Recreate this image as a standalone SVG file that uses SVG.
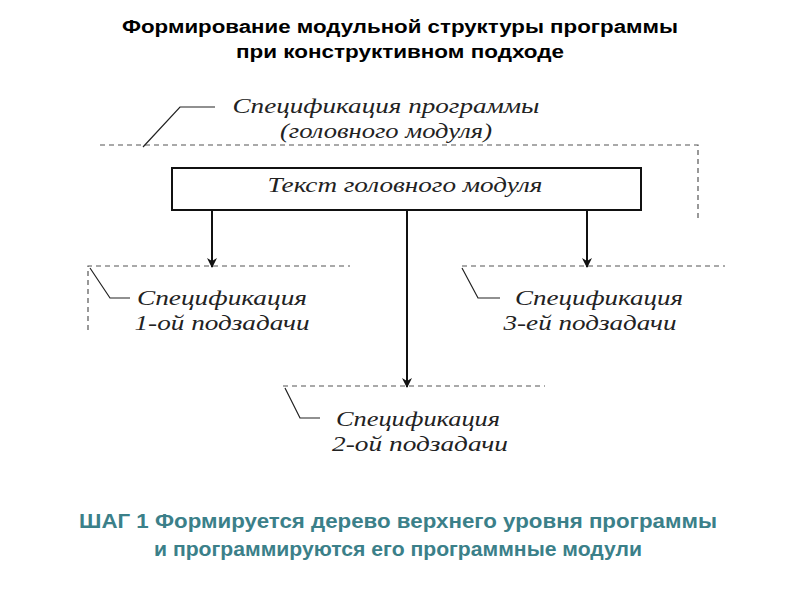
<svg xmlns="http://www.w3.org/2000/svg" width="800" height="600" viewBox="0 0 800 600">
<style>
.title{font-family:"Liberation Sans",Arial,sans-serif;font-weight:bold;font-size:18px;fill:#000;text-anchor:middle}
.step{font-family:"Liberation Sans",Arial,sans-serif;font-weight:bold;font-size:19.5px;fill:#3b8089;text-anchor:middle}
.lbl{font-family:"Liberation Serif","Times New Roman",serif;font-style:italic;font-size:21px;fill:#222;text-anchor:middle}
.dash{fill:none;stroke:#555;stroke-width:1.2;stroke-dasharray:5,4}
.lead{fill:none;stroke:#222;stroke-width:1.2}
.conn{fill:none;stroke:#111;stroke-width:2}
</style>
<defs>
<marker id="ah" viewBox="0 0 10 10" refX="9" refY="5" markerWidth="5" markerHeight="5" orient="auto">
<path d="M0,0 L10,5 L0,10 L3,5 z" fill="#111"/>
</marker>
</defs>
<rect width="800" height="600" fill="#fff"/>
<text class="title" x="400" y="33" textLength="556" lengthAdjust="spacingAndGlyphs">Формирование модульной структуры программы</text>
<text class="title" x="400" y="58" textLength="328" lengthAdjust="spacingAndGlyphs">при конструктивном подходе</text>

<g id="head-spec">
<path class="dash" d="M100,145 H698 V222"/>
<path class="lead" d="M143,147 L180,107 H215"/>
<text class="lbl" x="386" y="113" textLength="307" lengthAdjust="spacingAndGlyphs">Спецификация программы</text>
<text class="lbl" x="386" y="138" textLength="212" lengthAdjust="spacingAndGlyphs">(головного модуля)</text>
</g>

<g id="head-module">
<rect x="172" y="168" width="469" height="42" fill="#fff" stroke="#111" stroke-width="2"/>
<text class="lbl" x="405" y="192" textLength="275" lengthAdjust="spacingAndGlyphs">Текст головного модуля</text>
</g>

<g id="connectors">
<path class="conn" d="M212,210 V267" marker-end="url(#ah)"/>
<path class="conn" d="M407,210 V387" marker-end="url(#ah)"/>
<path class="conn" d="M587,210 V267" marker-end="url(#ah)"/>
</g>

<g id="sub1">
<path class="dash" d="M88,330 V266 H350"/>
<path class="lead" d="M90,268 L110,298 H130"/>
<text class="lbl" x="222" y="305" textLength="170" lengthAdjust="spacingAndGlyphs">Спецификация</text>
<text class="lbl" x="222" y="330" textLength="175" lengthAdjust="spacingAndGlyphs">1-ой подзадачи</text>
</g>

<g id="sub3">
<path class="dash" d="M462,266 H725"/>
<path class="lead" d="M462,268 L478,298 H500"/>
<text class="lbl" x="599" y="305" textLength="168" lengthAdjust="spacingAndGlyphs">Спецификация</text>
<text class="lbl" x="590" y="330" textLength="173" lengthAdjust="spacingAndGlyphs">3-ей подзадачи</text>
</g>

<g id="sub2">
<path class="dash" d="M283,386 H545"/>
<path class="lead" d="M285,388 L300,418 H320"/>
<text class="lbl" x="418" y="426" textLength="164" lengthAdjust="spacingAndGlyphs">Спецификация</text>
<text class="lbl" x="420" y="451" textLength="176" lengthAdjust="spacingAndGlyphs">2-ой подзадачи</text>
</g>

<text class="step" x="398" y="528" textLength="638" lengthAdjust="spacingAndGlyphs">ШАГ 1 Формируется дерево верхнего уровня программы</text>
<text class="step" x="398" y="556" textLength="488" lengthAdjust="spacingAndGlyphs">и программируются его программные модули</text>
</svg>
